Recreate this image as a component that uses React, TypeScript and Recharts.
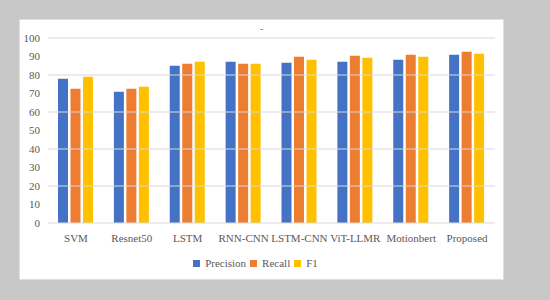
import { BarChart, Bar, XAxis, YAxis, ReferenceLine, Legend } from 'recharts';

const models = ['SVM', 'Resnet50', 'LSTM', 'RNN-CNN', 'LSTM-CNN', 'ViT-LLMR', 'Motionbert', 'Proposed'];
const precision = [78, 71, 85, 87.2, 86.6, 87.2, 88.3, 91];
const recall = [72.6, 72.6, 86.1, 86.1, 89.9, 90.4, 91, 92.6];
const f1 = [79.1, 73.7, 87.2, 86.1, 88.3, 89.3, 89.9, 91.5];
const yTicks = [0, 10, 20, 30, 40, 50, 60, 70, 80, 90, 100];
const gridValues = [20, 40, 60, 80, 100];

const data = models.map((name, i) => ({
    name,
    Precision: precision[i],
    Recall: recall[i],
    F1: f1[i],
}));

const series = [
    { key: 'Precision', color: '#4472C4' },
    { key: 'Recall', color: '#ED7D31' },
    { key: 'F1', color: '#FFC000' },
];

const font = '"Liberation Serif", "Times New Roman", serif';

function LegendRow() {
    return (
        <div style={{ display: 'flex', justifyContent: 'center', alignItems: 'center', fontFamily: font, fontSize: 11, color: '#595959' }}>
            {series.map((s) => (
                <span key={s.key} style={{ display: 'flex', alignItems: 'center', marginRight: 4 }}>
                    <span style={{ width: 7, height: 7, background: s.color, marginRight: 5, display: 'inline-block' }} />
                    {s.key}
                </span>
            ))}
        </div>
    );
}

export default function App() {
    return (
        <div style={{ width: 550, height: 300, background: '#c8c8c8', position: 'relative' }}>
            <style>{`body{margin:0}`}</style>
            <div
                style={{
                    position: 'absolute',
                    left: 19,
                    top: 19,
                    width: 483,
                    height: 259,
                    background: '#fff',
                    border: '1px solid #dedede',
                }}
            >
                <div style={{ position: 'absolute', left: 0, width: 483, top: 2, textAlign: 'center', fontFamily: font, fontSize: 11, color: '#7f7f7f' }}>-</div>
                <BarChart
                    width={483}
                    height={259}
                    data={data}
                    margin={{ top: 18, right: 8, left: 0, bottom: 10 }}
                    barSize={10}
                    barGap={2.5}
                >
                    {/* gridlines only every 20, labels every 10 */}
                    {gridValues.map((v) => (
                        <ReferenceLine key={v} y={v} stroke="#d9d9d9" />
                    ))}
                    <XAxis
                        dataKey="name"
                        tickLine={false}
                        tickSize={0}
                        tickMargin={11}
                        axisLine={{ stroke: '#d9d9d9' }}
                        interval={0}
                        height={34}
                        tick={{ fill: '#595959', fontSize: 11, fontFamily: font }}
                    />
                    <YAxis
                        width={28}
                        domain={[0, 100]}
                        ticks={yTicks}
                        interval={0}
                        tickLine={false}
                        tickSize={0}
                        tickMargin={8}
                        axisLine={false}
                        tick={{ fill: '#595959', fontSize: 11, fontFamily: font }}
                    />
                    {series.map((s) => (
                        <Bar key={s.key} dataKey={s.key} fill={s.color} isAnimationActive={false} />
                    ))}
                    <Legend verticalAlign="bottom" content={<LegendRow />} />
                </BarChart>
            </div>
        </div>
    );
}
